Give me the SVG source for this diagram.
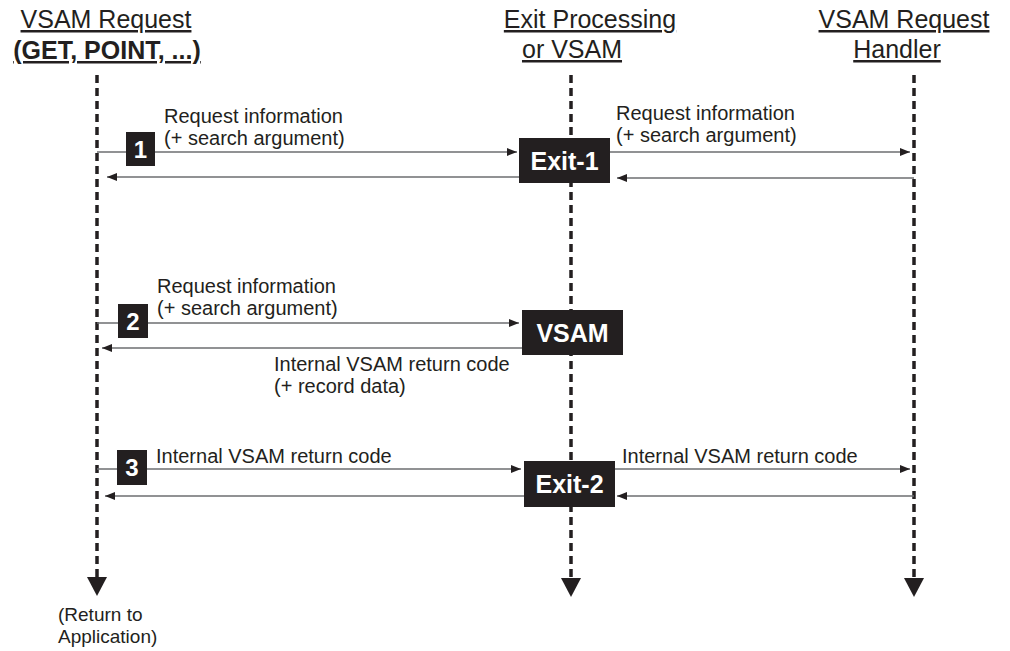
<svg xmlns="http://www.w3.org/2000/svg" width="1010" height="651" viewBox="0 0 1010 651">
<style>
.hdr{font-family:"Liberation Sans",Arial,sans-serif;font-size:25px;fill:#231f20;text-decoration:underline;text-anchor:middle}
.hdrb{font-weight:bold}
.lbl{font-family:"Liberation Sans",Arial,sans-serif;font-size:20px;fill:#231f20}
.note{font-family:"Liberation Sans",Arial,sans-serif;font-size:19px;fill:#231f20}
.life{stroke:#231f20;stroke-width:3.5;stroke-dasharray:8 5;fill:none}
.msg{stroke:#6d6e70;stroke-width:1.6;fill:none}
.box{fill:#231f20}
.boxt{font-family:"Liberation Sans",Arial,sans-serif;font-weight:bold;font-size:25px;fill:#fff;text-anchor:middle}
.badget{font-family:"Liberation Sans",Arial,sans-serif;font-weight:bold;font-size:24px;fill:#fff;text-anchor:middle}
</style>
<defs>
<marker id="ah" viewBox="0 0 10 10" refX="10" refY="5" markerWidth="10" markerHeight="10" markerUnits="userSpaceOnUse" orient="auto">
<path d="M0,1 L10,5 L0,9 Z" fill="#231f20"/>
</marker>
<marker id="big" viewBox="0 0 20 20" refX="10" refY="20" markerWidth="20" markerHeight="20" markerUnits="userSpaceOnUse" orient="auto-start-reverse">
<path d="M0,0 L20,0 L10,20 Z" fill="#231f20"/>
</marker>
</defs>

<g id="lifeline-request">
<text class="hdr" x="106" y="28">VSAM Request</text>
<text class="hdr hdrb" x="107" y="59">(GET, POINT, ...)</text>
<line class="life" x1="97" y1="75" x2="97" y2="578"/>
<path d="M87,577 L107,577 L97,596 Z" fill="#231f20"/>
<text class="note" x="58" y="621">(Return to</text>
<text class="note" x="58" y="643">Application)</text>
</g>

<g id="lifeline-exit">
<text class="hdr" x="590" y="28">Exit Processing</text>
<text class="hdr" x="572" y="58">or VSAM</text>
<line class="life" x1="571" y1="75" x2="571" y2="579"/>
<path d="M561,578 L581,578 L571,597 Z" fill="#231f20"/>
</g>

<g id="lifeline-handler">
<text class="hdr" x="904" y="28">VSAM Request</text>
<text class="hdr" x="897" y="58">Handler</text>
<line class="life" x1="914" y1="75" x2="914" y2="579"/>
<path d="M904,578 L924,578 L914,597 Z" fill="#231f20"/>
</g>

<g id="connectors">
<line class="msg" x1="97" y1="152" x2="517" y2="152" marker-end="url(#ah)"/>
<line class="msg" x1="519" y1="177" x2="107" y2="177" marker-end="url(#ah)"/>
<line class="msg" x1="610" y1="152" x2="910" y2="152" marker-end="url(#ah)"/>
<line class="msg" x1="914" y1="178" x2="617" y2="178" marker-end="url(#ah)"/>

<line class="msg" x1="97" y1="323" x2="519" y2="323" marker-end="url(#ah)"/>
<line class="msg" x1="522" y1="348" x2="102" y2="348" marker-end="url(#ah)"/>

<line class="msg" x1="97" y1="469" x2="521" y2="469" marker-end="url(#ah)"/>
<line class="msg" x1="524" y1="496" x2="105" y2="496" marker-end="url(#ah)"/>
<line class="msg" x1="615" y1="469" x2="910" y2="469" marker-end="url(#ah)"/>
<line class="msg" x1="914" y1="496" x2="617" y2="496" marker-end="url(#ah)"/>

<text class="lbl" x="164" y="123">Request information</text>
<text class="lbl" x="164" y="145">(+ search argument)</text>
<text class="lbl" x="616" y="120">Request information</text>
<text class="lbl" x="616" y="142">(+ search argument)</text>

<text class="lbl" x="157" y="293">Request information</text>
<text class="lbl" x="157" y="315">(+ search argument)</text>
<text class="lbl" x="274" y="371">Internal VSAM return code</text>
<text class="lbl" x="274" y="393">(+ record data)</text>

<text class="lbl" x="156" y="463">Internal VSAM return code</text>
<text class="lbl" x="622" y="463">Internal VSAM return code</text>
</g>

<g id="badge-1">
<rect class="box" x="126" y="132" width="29" height="34"/>
<text class="badget" x="140.5" y="158">1</text>
</g>
<g id="badge-2">
<rect class="box" x="118" y="304" width="30" height="34"/>
<text class="badget" x="133" y="330">2</text>
</g>
<g id="badge-3">
<rect class="box" x="117" y="450" width="30" height="35"/>
<text class="badget" x="132" y="476">3</text>
</g>

<g id="exit-1">
<rect class="box" x="519" y="138" width="91" height="45"/>
<text class="boxt" x="564.5" y="170">Exit-1</text>
</g>
<g id="vsam">
<rect class="box" x="522" y="310" width="101" height="45"/>
<text class="boxt" x="572.5" y="342">VSAM</text>
</g>
<g id="exit-2">
<rect class="box" x="524" y="461" width="91" height="46"/>
<text class="boxt" x="569.5" y="493">Exit-2</text>
</g>
</svg>
